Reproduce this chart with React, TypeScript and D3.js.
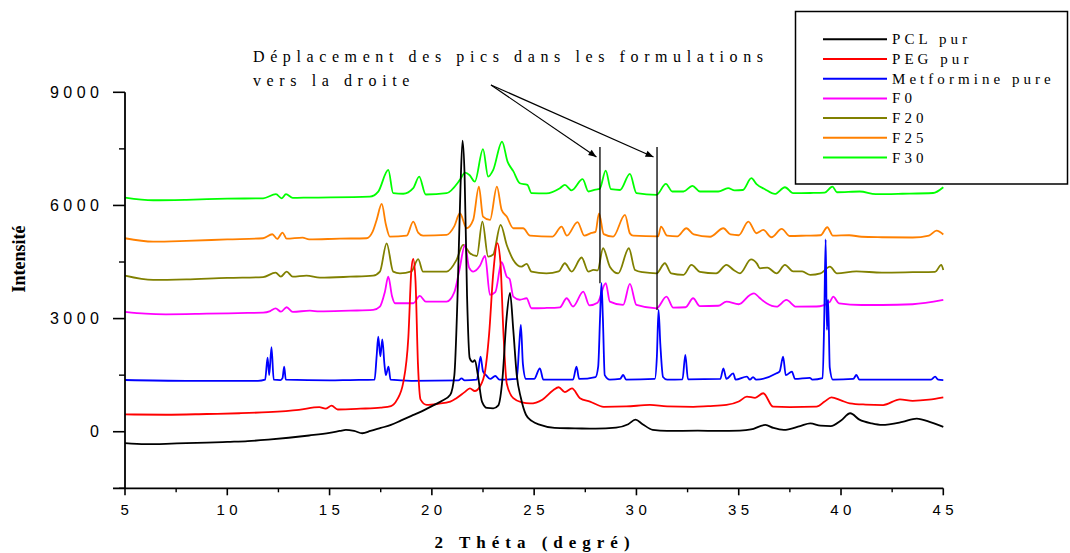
import React from "react";
import * as d3 from "d3";

// X-ray diffraction patterns (2θ in degrees, intensity in counts, offset per sample)
const pclPur: [number, number][] = [
  [5, -300], [6, -330], [7, -320], [8, -300], [9, -290], [10, -270], [11, -250], [12, -210], [13, -160],
  [14, -100], [15, -30], [15.5, 20], [15.8, 50], [16.2, 20], [16.6, -40], [17.0, 20], [17.5, 100], [18, 180],
  [18.5, 300], [19, 420], [19.5, 540], [20, 680], [20.5, 820], [20.9, 980], [21.1, 1500], [21.25, 3500],
  [21.4, 6500], [21.5, 7720], [21.6, 6800], [21.72, 3600], [21.85, 1950], [22.0, 1850], [22.1, 1900],
  [22.25, 1500], [22.45, 800], [22.7, 630], [23.0, 620], [23.25, 700], [23.45, 1400], [23.65, 3000],
  [23.82, 3680], [23.98, 2700], [24.15, 1500], [24.35, 900], [24.6, 450], [24.9, 280], [25.3, 180],
  [26, 100], [27, 90], [28, 80], [29, 110], [29.6, 200], [29.95, 320], [30.3, 200], [30.8, 50], [31.5, 20],
  [33, 30], [34, 20], [35.06, 30], [35.6, 60], [36.3, 180], [36.7, 100], [37.2, 50], [38, 150], [38.5, 220],
  [39.0, 160], [39.5, 150], [40.0, 300], [40.45, 490], [40.9, 320], [41.5, 220], [42, 180], [43, 260],
  [43.7, 350], [44.4, 250], [45, 130],
];

const pegPur: [number, number][] = [
  [5, 460], [7, 450], [9, 470], [10.6, 490], [12, 520], [13.5, 580], [14.5, 650], [14.8, 610], [15.1, 690],
  [15.4, 590], [16.5, 610], [17.5, 640], [18, 680], [18.3, 850], [18.6, 1300], [18.85, 2500], [19.0, 4300],
  [19.09, 4580], [19.2, 4000], [19.32, 1800], [19.45, 850], [19.75, 710], [20.3, 740], [20.9, 800],
  [21.2, 890], [21.6, 1050], [21.86, 1150], [22.1, 1080], [22.35, 1200], [22.6, 1600], [22.8, 2600],
  [23.0, 4200], [23.2, 5000], [23.35, 4500], [23.5, 2600], [23.66, 1280], [23.98, 890], [24.4, 780],
  [24.8, 750], [25.4, 850], [25.93, 1100], [26.2, 1180], [26.5, 1050], [26.85, 1150], [27.24, 890],
  [27.73, 800], [28.4, 660], [29.5, 670], [30.66, 710], [31.5, 670], [32.78, 660], [33.5, 680], [34.4, 710],
  [35.0, 800], [35.4, 930], [35.8, 900], [36.2, 1020], [36.68, 663], [37.5, 650], [38.8, 663], [39.2, 800],
  [39.53, 913], [40.0, 830], [40.43, 753], [41.2, 720], [42.06, 708], [42.88, 860], [43.5, 820],
  [44.3, 850], [45, 913],
];

const metformine: [number, number][] = [
  [5, 1372], [8, 1350], [11.5, 1350], [11.85, 1380], [11.97, 1963], [12.05, 1500], [12.16, 2240],
  [12.27, 1380], [12.6, 1370], [12.7, 1420], [12.78, 1725], [12.86, 1380], [15, 1360], [16, 1370],
  [17.2, 1380], [17.3, 2000], [17.38, 2520], [17.48, 2000], [17.58, 2450], [17.68, 1800], [17.75, 1500],
  [17.88, 1725], [17.98, 1380], [19, 1350], [21.3, 1360], [21.45, 1416], [21.6, 1360], [22.2, 1380],
  [22.38, 1990], [22.5, 1600], [22.65, 1500], [22.85, 1400], [23.1, 1478], [23.3, 1380], [24.15, 1400],
  [24.27, 2300], [24.35, 2830], [24.45, 1800], [24.6, 1400], [25.0, 1400], [25.28, 1682], [25.45, 1380],
  [26.9, 1380], [27.07, 1725], [27.2, 1400], [28.0, 1450], [28.13, 1725], [28.22, 3000], [28.29, 3940],
  [28.36, 3000], [28.45, 1500], [28.7, 1380], [29.2, 1400], [29.35, 1504], [29.5, 1380], [30.9, 1400],
  [31.0, 2000], [31.08, 3230], [31.17, 2300], [31.3, 1450], [31.5, 1380], [32.25, 1390], [32.39, 2035],
  [32.52, 1390], [34.1, 1400], [34.25, 1682], [34.4, 1400], [34.73, 1549], [34.85, 1380], [35.4, 1460],
  [35.55, 1380], [35.7, 1450], [35.85, 1380], [36.85, 1550], [37.0, 1600], [37.17, 1990], [37.3, 1500],
  [37.6, 1592], [37.75, 1400], [38.47, 1430], [38.6, 1380], [39.1, 1420], [39.18, 3000], [39.25, 5100],
  [39.31, 2700], [39.37, 3500], [39.45, 1700], [39.6, 1380], [40.6, 1400], [40.75, 1504], [40.9, 1380],
  [44.4, 1380], [44.6, 1460], [44.75, 1380], [45, 1370],
];

const f0: [number, number][] = [
  [5, 3180], [6, 3130], [7, 3114], [9, 3130], [11, 3150], [11.75, 3157], [12.1, 3200], [12.36, 3273],
  [12.62, 3183], [12.9, 3300], [13.2, 3180], [14.04, 3210], [14.5, 3190], [16, 3210], [17.13, 3229],
  [17.46, 3316], [17.7, 3700], [17.87, 4112], [18.05, 3600], [18.2, 3406], [19.09, 3406], [19.41, 3600],
  [19.7, 3450], [20.72, 3449], [21.1, 3700], [21.35, 4300], [21.62, 4953], [21.82, 4350], [22.02, 4245],
  [22.35, 4400], [22.6, 4661], [22.84, 3627], [23.1, 3700], [23.41, 4494], [23.66, 4112], [23.8, 4050],
  [23.98, 3582], [24.3, 3500], [24.63, 3539], [24.87, 3274], [25.5, 3280], [26.26, 3300], [26.59, 3539],
  [26.9, 3320], [27.4, 3714], [27.7, 3350], [28.1, 3420], [28.5, 3937], [28.7, 3449], [29.35, 3361],
  [29.68, 3918], [30.0, 3361], [30.98, 3273], [31.47, 3582], [31.8, 3290], [32.4, 3300], [32.77, 3539],
  [33.1, 3330], [34, 3340], [34.4, 3449], [35.0, 3380], [35.55, 3627], [35.75, 3671], [36.0, 3560],
  [36.36, 3406], [36.85, 3316], [37.33, 3494], [37.8, 3316], [38.8, 3320], [39.46, 3449], [39.62, 3582],
  [39.9, 3406], [41, 3360], [42, 3360], [43.5, 3380], [45, 3494],
];

const f20: [number, number][] = [
  [5, 4139], [6.38, 4025], [8, 4040], [10, 4080], [11.75, 4100], [12.36, 4218], [12.62, 4112], [12.9, 4245],
  [13.2, 4112], [13.87, 4139], [14.53, 4084], [16, 4110], [17.13, 4139], [17.46, 4245], [17.79, 4996],
  [18.11, 4245], [18.44, 4200], [19.0, 4250], [19.33, 4574], [19.57, 4245], [20.72, 4245], [21.2, 4550],
  [21.53, 4953], [21.86, 4733], [22.2, 4660], [22.47, 5571], [22.75, 4643], [23.0, 4700], [23.36, 5484],
  [23.66, 4953], [23.98, 4555], [24.38, 4377], [24.63, 4449], [24.87, 4245], [25.6, 4200], [26.2, 4250],
  [26.5, 4467], [26.83, 4245], [27.32, 4620], [27.65, 4245], [27.9, 4290], [28.1, 4280], [28.37, 4865],
  [28.7, 4377], [29.11, 4200], [29.63, 4865], [29.93, 4290], [30.3, 4230], [30.98, 4200], [31.39, 4467],
  [31.7, 4200], [32.3, 4160], [32.69, 4422], [33.1, 4240], [33.9, 4200], [34.4, 4422], [34.75, 4290],
  [35.06, 4200], [35.6, 4570], [35.9, 4450], [36.03, 4334], [36.4, 4350], [36.85, 4200], [37.26, 4422],
  [37.66, 4250], [38.1, 4250], [38.5, 4160], [39.0, 4200], [39.46, 4377], [39.8, 4200], [40.75, 4250],
  [42, 4220], [43.5, 4230], [44.6, 4240], [44.9, 4422], [45, 4290],
];

const f25: [number, number][] = [
  [5, 5130], [6.38, 5040], [8, 5060], [10, 5100], [11.75, 5130], [12.2, 5236], [12.44, 5112], [12.7, 5280],
  [12.9, 5120], [13.68, 5147], [14.0, 5100], [15.5, 5120], [16.8, 5130], [17.1, 5300], [17.3, 5616],
  [17.55, 6040], [17.75, 5500], [17.95, 5174], [18.77, 5200], [19.09, 5571], [19.33, 5280], [19.57, 5200],
  [20.72, 5220], [21.1, 5450], [21.37, 5793], [21.7, 5395], [22.02, 5616], [22.3, 6500], [22.5, 5704],
  [22.84, 5616], [23.18, 6500], [23.41, 5882], [23.66, 5704], [23.98, 5395], [24.46, 5395], [24.8, 5200],
  [25.9, 5174], [26.34, 5440], [26.6, 5200], [27.12, 5560], [27.45, 5200], [27.8, 5270], [28.0, 5300],
  [28.17, 5790], [28.4, 5240], [28.86, 5174], [29.44, 5749], [29.68, 5260], [29.84, 5200], [31.06, 5180],
  [31.2, 5440], [31.5, 5200], [32.0, 5180], [32.44, 5395], [32.8, 5230], [33.6, 5170], [34.25, 5395],
  [34.6, 5230], [35.0, 5210], [35.47, 5571], [35.87, 5263], [36.2, 5350], [36.6, 5157], [37.1, 5378],
  [37.5, 5190], [38.3, 5200], [39.0, 5210], [39.33, 5422], [39.6, 5200], [40.4, 5210], [41, 5170],
  [42.0, 5157], [43.5, 5150], [44.3, 5200], [44.67, 5333], [45, 5230],
];

const f30: [number, number][] = [
  [5, 6208], [6.38, 6138], [8, 6150], [10, 6180], [11.75, 6190], [12.38, 6298], [12.66, 6190], [12.87, 6298],
  [13.2, 6200], [14.0, 6208], [16.97, 6235], [17.38, 6368], [17.87, 6943], [18.11, 6325], [18.6, 6310],
  [19.09, 6457], [19.38, 6765], [19.7, 6290], [20.72, 6325], [21.37, 6677], [21.62, 6872], [21.85, 6800],
  [22.1, 6632], [22.5, 7492], [22.75, 6765], [23.0, 6943], [23.43, 7694], [23.7, 7163], [23.98, 6910],
  [24.3, 6589], [24.67, 6545], [24.87, 6325], [25.6, 6320], [26.26, 6457], [26.5, 6545], [26.83, 6400],
  [27.37, 6696], [27.65, 6370], [28.0, 6420], [28.2, 6440], [28.5, 6925], [28.75, 6430], [29.2, 6410],
  [29.68, 6836], [30.0, 6325], [30.98, 6280], [31.44, 6572], [31.75, 6370], [32.3, 6370], [32.74, 6519],
  [33.1, 6370], [34.0, 6370], [34.48, 6457], [34.8, 6400], [35.2, 6410], [35.62, 6722], [35.87, 6565],
  [36.28, 6430], [36.77, 6306], [37.26, 6483], [37.66, 6325], [38.5, 6330], [39.2, 6340], [39.58, 6500],
  [39.8, 6350], [40.92, 6370], [41.7, 6300], [43, 6310], [44.5, 6330], [45, 6483],
];

const seriesNames = ["PCL pur", "PEG pur", "Metformine pure", "F0", "F20", "F25", "F30"];
const seriesColors = ["#000000", "#ff0000", "#0000ff", "#ff00ff", "#808000", "#ff8000", "#00ff00"];
const seriesData = [pclPur, pegPur, metformine, f0, f20, f25, f30];

const xTicks = [5, 10, 15, 20, 25, 30, 35, 40, 45];
const xMinorTicks = [7.5, 12.5, 17.5, 22.5, 27.5, 32.5, 37.5, 42.5];
const yTicks = [0, 3000, 6000, 9000];
const yMinorTicks = [-1500, 1500, 4500, 7500];

// Peaks of metformin followed through the formulations
const shiftedPeaks: [number, number][] = [[28.29, 3940], [31.08, 3230]];
const markerTop = 7550;

const annotationLines = ["Déplacement des pics dans les formulations", "vers la droite"];

export default function App() {
  const x = d3.scaleLinear().domain([5, 45]).range([125, 943.3]);
  const y = d3.scaleLinear().domain([-1500, 9000]).range([488.3, 92.3]);
  const line = d3
    .line<[number, number]>()
    .x((d) => x(d[0]))
    .y((d) => y(d[1]))
    .curve(d3.curveMonotoneX);

  const sans = "'Liberation Sans', Arial, sans-serif";
  const serif = "'Liberation Serif', 'Times New Roman', serif";
  const drawOrder = [6, 5, 4, 3, 2, 1, 0];
  const arrowStart: [number, number] = [491, 85];

  return (
    <svg
      width={1070}
      height={553}
      style={{ position: "absolute", left: 0, top: 0, background: "#fff" }}
    >
      <defs>
        <marker id="arrowHead" viewBox="0 0 10 10" refX="10" refY="5" markerWidth="11" markerHeight="8"
          markerUnits="userSpaceOnUse" orient="auto">
          <path d="M0,1 L10,5 L0,9 Z" fill="#000" />
        </marker>
      </defs>

      {/* spectra */}
      {drawOrder.map((i) => (
        <path key={seriesNames[i]} d={line(seriesData[i]) || ""} fill="none"
          stroke={seriesColors[i]} strokeWidth={1.8} strokeLinejoin="round" />
      ))}

      {/* axes */}
      <line x1={113} x2={x(45)} y1={y(-1500)} y2={y(-1500)} stroke="#000" strokeWidth={1.8} />
      <line x1={x(5)} x2={x(5)} y1={y(9000)} y2={y(-1500)} stroke="#000" strokeWidth={1.8} />
      {xTicks.map((t) => (
        <g key={"xt" + t}>
          <line x1={x(t)} x2={x(t)} y1={y(-1500)} y2={y(-1500) + 7} stroke="#000" strokeWidth={1.6} />
          <text x={x(t) + 2} y={515} fontFamily={sans} fontSize={15} letterSpacing={4.5}
            textAnchor="middle" fill="#000">{t}</text>
        </g>
      ))}
      {xMinorTicks.map((t) => (
        <line key={"xm" + t} x1={x(t)} x2={x(t)} y1={y(-1500)} y2={y(-1500) + 4} stroke="#000" strokeWidth={1.4} />
      ))}
      {yTicks.map((t) => (
        <g key={"yt" + t}>
          <line x1={113} x2={x(5)} y1={y(t)} y2={y(t)} stroke="#000" strokeWidth={1.6} />
          <text x={103.5} y={y(t) + 5.5} fontFamily={sans} fontSize={16} letterSpacing={4.5}
            textAnchor="end" fill="#000">{t}</text>
        </g>
      ))}
      {yMinorTicks.map((t) => (
        <line key={"ym" + t} x1={119} x2={x(5)} y1={y(t)} y2={y(t)} stroke="#000" strokeWidth={1.4} />
      ))}

      {/* axis titles */}
      <text x={535} y={547.5} fontFamily={serif} fontWeight="bold" fontSize={17} letterSpacing={6}
        textAnchor="middle" fill="#000">2 Théta (degré)</text>
      <text transform="translate(25,259) rotate(-90)" fontFamily={serif} fontWeight="bold" fontSize={18}
        textAnchor="middle" fill="#000">Intensité</text>

      {/* peak-shift annotation */}
      {shiftedPeaks.map(([p, v]) => (
        <g key={"sp" + p}>
          <line x1={x(p) - 1.5} x2={x(p) - 1.5} y1={y(markerTop)} y2={y(v)} stroke="#000" strokeWidth={1.3} />
          <line x1={arrowStart[0]} y1={arrowStart[1]} x2={x(p) - 5} y2={y(markerTop) + 10}
            stroke="#000" strokeWidth={1.2} markerEnd="url(#arrowHead)" />
        </g>
      ))}
      {annotationLines.map((t, i) => (
        <text key={t} x={253} y={62 + i * 24} fontFamily={serif} fontSize={16} letterSpacing={5.6}
          fill="#000">{t}</text>
      ))}

      {/* legend */}
      <rect x={795.5} y={11.5} width={272} height={172.5} fill="#fff" stroke="#000" strokeWidth={1.5} />
      {seriesNames.map((name, i) => (
        <g key={"lg" + name}>
          <line x1={823} x2={887} y1={39.3 + i * 19.7} y2={39.3 + i * 19.7} stroke={seriesColors[i]} strokeWidth={2} />
          <text x={892} y={44.3 + i * 19.7} fontFamily={serif} fontSize={15} letterSpacing={4.05}
            fill="#000">{name}</text>
        </g>
      ))}
    </svg>
  );
}
